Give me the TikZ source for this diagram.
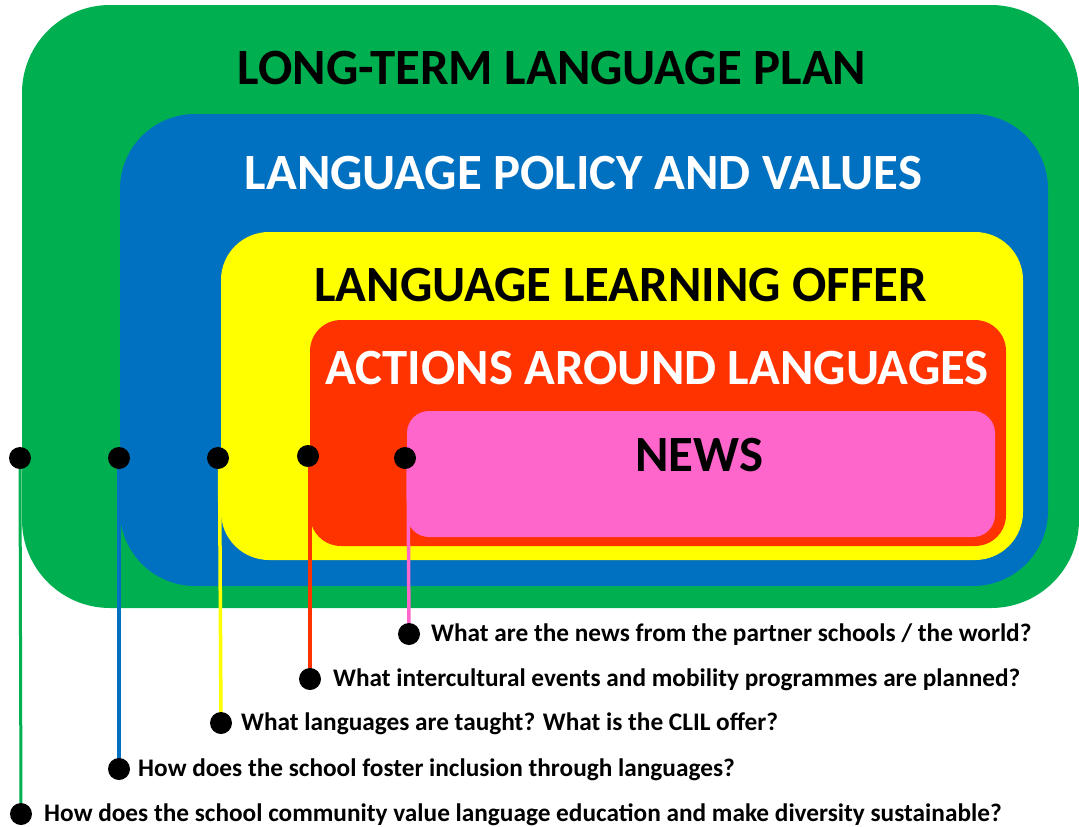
\documentclass[tikz,border=0pt]{standalone}
\usepackage{fontspec}
\setmainfont{Carlito}
\definecolor{cgreen}{HTML}{00B050}
\definecolor{cblue}{HTML}{0070C0}
\definecolor{cyellow}{HTML}{FFFF00}
\definecolor{cred}{HTML}{FF3300}
\definecolor{cpink}{HTML}{FF66CC}
\pgfdeclarelayer{boxes}
\pgfdeclarelayer{lines}
\pgfsetlayers{boxes,lines,main}
\begin{document}
\begin{tikzpicture}[x=1pt,y=-1pt,
  title/.style={font=\fontsize{50.8}{60}\selectfont\bfseries, inner sep=0pt},
  dot/.style={circle, fill=black, minimum size=22pt, inner sep=0pt},
  question/.style={font=\fontsize{25.3}{30}\selectfont\bfseries, anchor=base west, inner sep=0pt},
  link/.style={line width=3.5pt}]
\useasboundingbox (0,0) rectangle (1079,827);
% nested boxes
\begin{pgfonlayer}{boxes}
\fill[cgreen, rounded corners=88pt] (22,5) rectangle (1079,608);
\fill[cblue, rounded corners=75pt] (120,114) rectangle (1048,586);
\fill[cyellow, rounded corners=48pt] (221,232) rectangle (1023,560);
\fill[cred, rounded corners=31pt] (310,320) rectangle (1006,546);
\fill[cpink, rounded corners=22pt] (407,411) rectangle (995,537);
\end{pgfonlayer}
% titles
\node[title, text=black] (t1) at (552,68) {LONG-TERM LANGUAGE PLAN};
\node[title, text=white] (t2) at (583.5,173) {LANGUAGE POLICY AND VALUES};
\node[title, text=black] (t3) at (620.5,285) {LANGUAGE LEARNING OFFER};
\node[title, text=white] (t4) at (657,368) {ACTIONS AROUND LANGUAGES};
\node[title, text=black] (t5) at (699.5,455) {NEWS};
% dots
\node[dot] (a1) at (20,458) {};
\node[dot] (b1) at (119,458) {};
\node[dot] (c1) at (218,458) {};
\node[dot] (d1) at (308,456) {};
\node[dot] (e1) at (405,458) {};
\node[dot] (e2) at (409,634) {};
\node[dot] (d2) at (310,679) {};
\node[dot] (c2) at (221,723) {};
\node[dot] (b2) at (119,769) {};
\node[dot] (a2) at (21,814) {};
% connectors
\begin{pgfonlayer}{lines}
\draw[link, cgreen, line width=3pt] (a1.center) -- (a2.center);
\draw[link, cblue] (b1.center) -- (b2.center);
\draw[link, cyellow] (c1.center) ++(1.5,0) -- (c2.center);
\draw[link, cred] (d1.center) ++(2,0) -- (d2.center);
\draw[link, cpink] (e1.center) ++(3,0) -- (e2.center);
\end{pgfonlayer}
% questions
\node[question] (q5) at (431,641) {What are the news from the partner schools / the world?};
\node[question] (q4) at (333,686) {What intercultural events and mobility programmes are planned?};
\node[question] (q3) at (241,730) {What languages are taught? What is the CLIL offer?};
\node[question] (q2) at (138,776) {How does the school foster inclusion through languages?};
\node[question] (q1) at (44,821) {How does the school community value language education and make diversity sustainable?};
\end{tikzpicture}
\end{document}
